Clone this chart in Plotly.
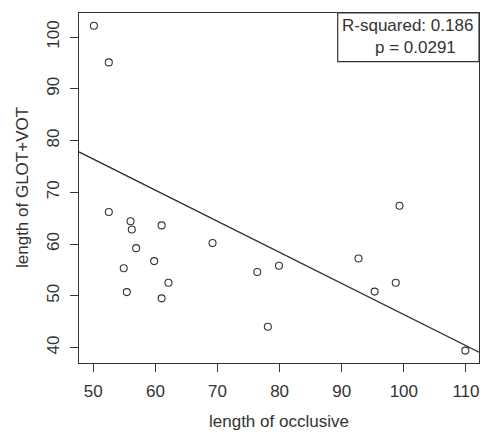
import numpy as np
import plotly.graph_objects as go

# data
occlusive = [50.1, 52.5, 52.5, 56.0, 56.2, 61.0, 56.9, 69.2, 59.8, 54.9, 62.1,
             55.4, 61.0, 76.4, 79.9, 78.1, 92.7, 98.7, 95.3, 109.9, 99.3]
glot_vot = [102.2, 95.1, 66.2, 64.4, 62.8, 63.6, 59.2, 60.2, 56.7, 55.3, 52.5,
            50.7, 49.5, 54.6, 55.8, 44.0, 57.2, 52.5, 50.8, 39.4, 67.4]
fit_intercept = 106.47
fit_slope = -0.601
x_ticks = [50, 60, 70, 80, 90, 100, 110]
y_ticks = [40, 50, 60, 70, 80, 90, 100]
legend_lines = ["R-squared: 0.186", "p = 0.0291"]

x_range = [47.7, 112.1]
y_range = [37.0, 104.65]

FONT = "Liberation Sans, Arial, Helvetica, sans-serif"
INK = "#333333"

fig = go.Figure()
fig.add_trace(go.Scatter(
    x=occlusive, y=glot_vot, mode="markers",
    marker=dict(symbol="circle-open", size=7, color=INK, line=dict(width=1.1, color=INK)),
    showlegend=False, hoverinfo="skip"))

lx = np.array(x_range)
fig.add_trace(go.Scatter(
    x=lx, y=fit_intercept + fit_slope * lx, mode="lines",
    line=dict(color=INK, width=1.3), showlegend=False, hoverinfo="skip"))

W, H = 480, 432
plot_left, plot_right, plot_top, plot_bottom = 79, 479, 13, 363
L, R, T, B = plot_left, W - plot_right, plot_top, H - plot_bottom
pw, ph = plot_right - plot_left, plot_bottom - plot_top

axis_common = dict(showline=True, mirror=True, linecolor=INK, linewidth=1.2,
                   ticks="outside", ticklen=8, tickwidth=1.2, tickcolor=INK,
                   showgrid=False, zeroline=False, ticklabelstandoff=4,
                   tickfont=dict(family=FONT, size=17, color=INK))

fig.update_layout(
    width=W, height=H,
    margin=dict(l=L, r=R, t=T, b=B, pad=0),
    paper_bgcolor="white", plot_bgcolor="white",
    xaxis=dict(range=x_range, tickvals=x_ticks, ticktext=[str(v) for v in x_ticks], **axis_common),
    yaxis=dict(range=y_range, tickvals=y_ticks, ticktext=[str(v) for v in y_ticks],
               tickangle=-90, **axis_common),
)

def px_x(p):  # page pixel -> paper fraction
    return (p - plot_left) / pw

def px_y(p):
    return 1 - (p - plot_top) / ph

# legend box
fig.add_shape(type="rect", xref="paper", yref="paper",
              x0=px_x(337.7), x1=1, y0=px_y(61.7), y1=1,
              line=dict(color=INK, width=1.2), fillcolor="white", layer="above")
fig.add_annotation(xref="paper", yref="paper", x=px_x(340), y=px_y(25.5),
                   xanchor="left", yanchor="middle", showarrow=False,
                   text=legend_lines[0], font=dict(family=FONT, size=17, color=INK))
fig.add_annotation(xref="paper", yref="paper", x=px_x(373), y=px_y(48),
                   xanchor="left", yanchor="middle", showarrow=False,
                   text=legend_lines[1], font=dict(family=FONT, size=17, color=INK))

# axis titles
fig.add_annotation(xref="paper", yref="paper", x=0.5, y=px_y(421),
                   xanchor="center", yanchor="middle", showarrow=False,
                   text="length of occlusive", font=dict(family=FONT, size=17, color=INK))
fig.add_annotation(xref="paper", yref="paper", x=px_x(22), y=0.5,
                   xanchor="center", yanchor="middle", showarrow=False, textangle=-90,
                   text="length of GLOT+VOT", font=dict(family=FONT, size=17, color=INK))

fig.write_html("out.html", config={"displayModeBar": False},
               post_script="document.body.style.margin='0';document.body.style.overflow='hidden';")
